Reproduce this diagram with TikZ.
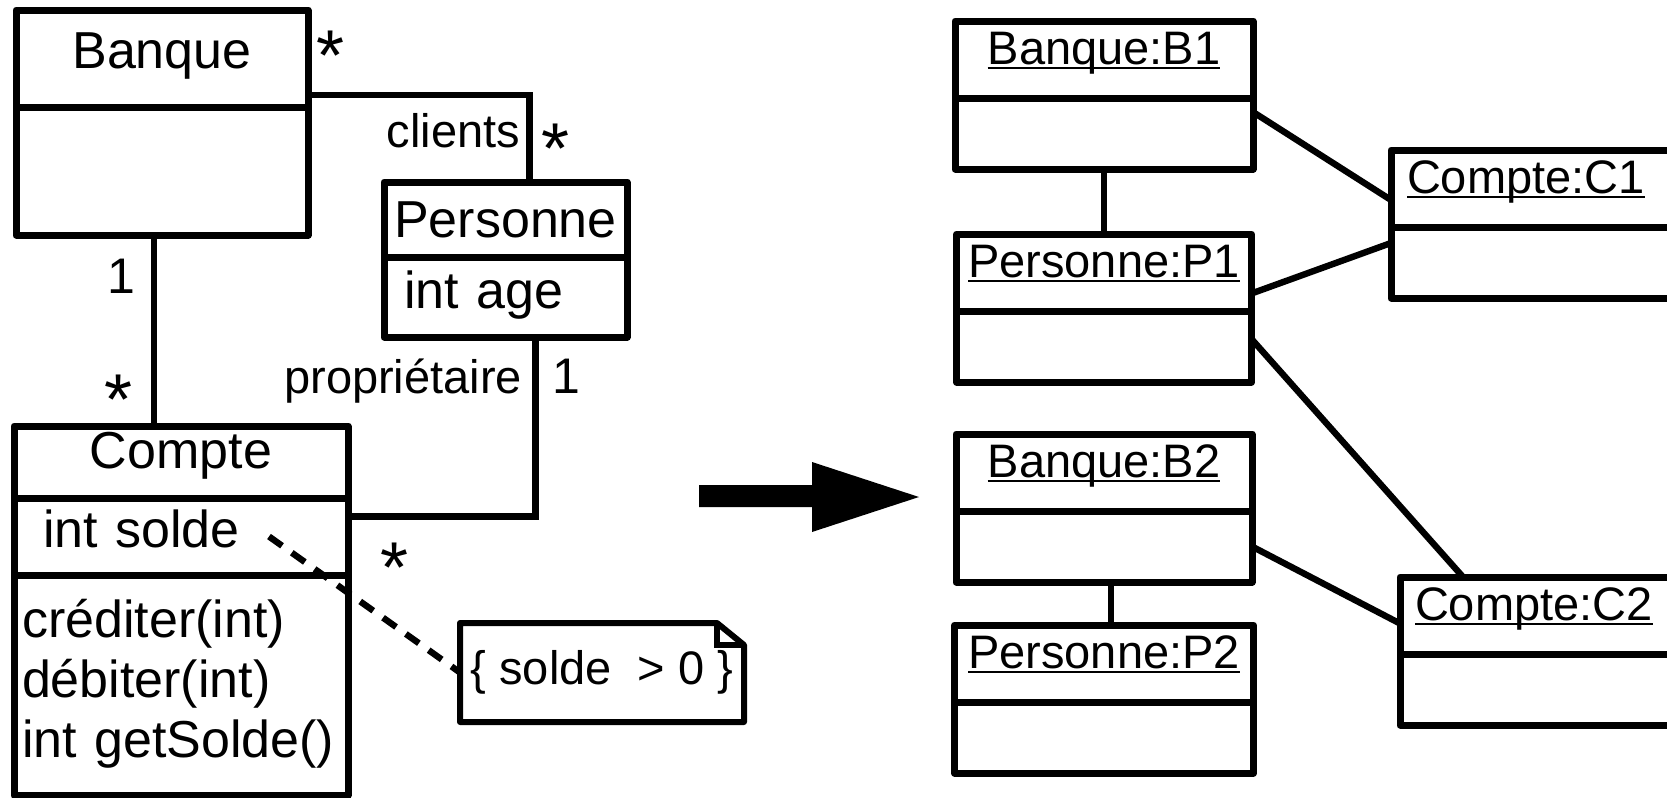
\documentclass[tikz,border=0pt]{standalone}
\usepackage{fontspec}
\setmainfont{Liberation Sans}
\usetikzlibrary{positioning}
\newcommand{\souligne}[1]{\setbox0\hbox{#1}\rlap{\rule[-2.6pt]{\wd0}{1.2pt}}\box0}

\begin{document}
\begin{tikzpicture}[
  x=0.5pt, y=-0.5pt,
  compart/.style={
    draw,
    line width=3.5pt,
    line join=round,
    outer sep=0pt,
    inner sep=0pt,
    anchor=north west
  },
  classe/.style={compart, font=\fontsize{26pt}{30pt}\selectfont},
  objtitre/.style={compart, font=\fontsize{23.5pt}{26pt}\selectfont,
    text height=21.5pt, text depth=17pt},
  objattr/.style={compart, minimum height=35.5pt},
  lien/.style={line width=3.2pt},
  role/.style={font=\fontsize{23.5pt}{26pt}\selectfont, inner sep=0pt, outer sep=0pt},
  mult/.style={font=\fontsize{25pt}{28pt}\selectfont, inner sep=0pt, anchor=base},
  etoile/.style={mult, font=\fontsize{36pt}{36pt}\selectfont}
]
  \clip (0,0) rectangle (1667,798);

  % diagramme de classes
  \node[classe, minimum width=146pt, text height=29pt, text depth=19.5pt] (banque) at (16,10) {Banque};
  \node[classe, below=0pt of banque, minimum width=146pt, minimum height=64pt] (banqueA) {};

  \node[classe, minimum width=121.5pt, text height=27.5pt, text depth=10pt] (personne) at (384,182) {Personne};
  \node[classe, below=0pt of personne, text width=101.5pt, inner xsep=10pt, align=left,
    text height=25.5pt, text depth=14.5pt] (personneA) {int age};

  \node[classe, minimum width=167pt, text height=21pt, text depth=15pt] (compte) at (14,426) {Compte\hspace{11pt}};
  \node[classe, below=0pt of compte, text width=138pt, inner xsep=14.5pt, align=left,
    text height=24.5pt, text depth=14pt] (compteA) {int solde};
  \node[classe, below=0pt of compteA, text width=159pt, inner xsep=4pt, align=left,
    text height=31pt, text depth=79pt] (compteM) {créditer(int)\\débiter(int)\\int getSolde()};

  \node[role, minimum width=142pt, minimum height=49.5pt] (contrainte) at (602,672.5) {\{ solde\ \ > 0 \}};
  \draw[line width=3pt, line join=round] (contrainte.south west) -- (contrainte.north west)
    -- ([xshift=-13.5pt]contrainte.north east) -- ([yshift=-11pt]contrainte.north east)
    -- (contrainte.south east) -- cycle;
  \draw[line width=3pt] ([xshift=-13.5pt]contrainte.north east) |- ([yshift=-11pt]contrainte.north east);

  \draw[lien] ([xshift=-4pt]banqueA.south) -- ([xshift=-4pt]banqueA.south |- compte.north);
  \draw[lien] ([yshift=6pt]banque.south east) -| ([xshift=12pt]personne.north);
  \draw[lien] ([xshift=15pt]personneA.south) |- ([yshift=10pt]compteA.east);
  \draw[lien, dash pattern=on 8pt off 6pt] ([xshift=44pt]compteA.center) -- (contrainte.west);

  \node[etoile] (mBanqueP) at (331,80) {*};
  \node[role, anchor=base east] (clients) at (520,147) {clients};
  \node[etoile] (mClients) at (556,173) {*};
  \node[mult] (mBanqueC) at (121,293) {1};
  \node[etoile] (mComptes) at (119,424) {*};
  \node[role, anchor=base east] (proprio) at (522,393) {propriétaire};
  \node[mult] (mProprio) at (566,393) {1};
  \node[etoile] (mCompteP) at (395,592) {*};

  % transformation
  \fill (699,485) -- (812,485) -- (812,462) -- (919,497) -- (812,532) -- (812,507) -- (699,507) -- cycle;

  % diagramme d'objets
  \node[objtitre, minimum width=149pt] (b1) at (955,21) {\souligne{Banque:B1}};
  \node[objattr, below=0pt of b1, minimum width=149pt] (b1A) {};
  \node[objtitre, below=32.5pt of b1A, minimum width=147.5pt] (p1) {\souligne{Personne:P1}};
  \node[objattr, below=0pt of p1, minimum width=147.5pt] (p1A) {};
  \node[objtitre, below=26pt of p1A, minimum width=148pt] (b2) {\souligne{Banque:B2}};
  \node[objattr, below=0pt of b2, minimum width=148pt] (b2A) {};
  \node[objtitre, below=21.5pt of b2A, minimum width=149.5pt] (p2) {\souligne{Personne:P2}};
  \node[objattr, below=0pt of p2, minimum width=149.5pt] (p2A) {};

  \node[objtitre, text width=152pt, inner xsep=8pt, align=left] (c1) at (1391,150) {\souligne{Compte:C1}};
  \node[objattr, below=0pt of c1, minimum width=168pt] (c1A) {};
  \node[objtitre, text width=153pt, inner xsep=7.5pt, align=left] (c2) at (1400,577) {\souligne{Compte:C2}};
  \node[objattr, below=0pt of c2, minimum width=168pt] (c2A) {};

  \draw[lien] (b1A.south) -- (p1.north);
  \draw[lien] ([xshift=3.5pt]b2A.south) -- ([xshift=3.5pt]b2A.south |- p2.north);
  \draw[lien] ([yshift=10.75pt]b1A.east) -- ([yshift=-5.75pt]c1.west);
  \draw[lien] ([yshift=-10.5pt]p1.east) -- ([yshift=9.75pt]c1A.west);
  \draw[lien] ([yshift=3.75pt]p1A.east) -- ([xshift=31.5pt]c2.north west);
  \draw[lien] (b2A.east) -- ([yshift=-4pt]c2.west);
\end{tikzpicture}
\end{document}
